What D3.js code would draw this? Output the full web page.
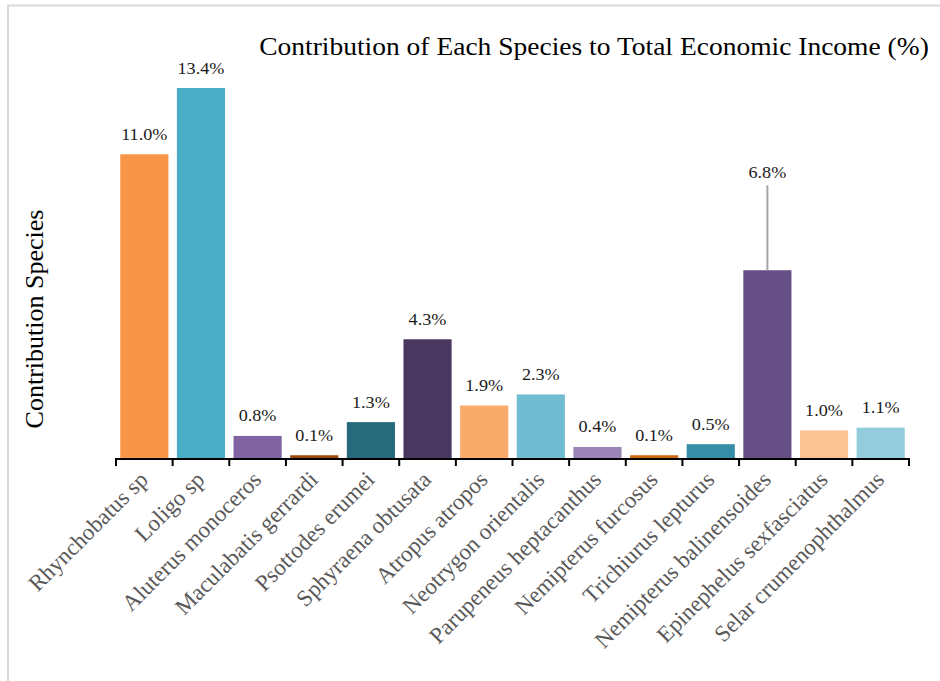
<!DOCTYPE html>
<html>
<head>
<meta charset="utf-8">
<script src="https://cdn.jsdelivr.net/npm/d3@7"></script>
<style>
  body { margin: 0; background: #fff; }
  text { font-family: "Liberation Serif", "Times New Roman", serif; }
</style>
</head>
<body>
<div id="chart"></div>
<script>
// species names, in the order they appear on the axis
const species = [
  "Rhynchobatus sp", "Loligo sp", "Aluterus monoceros", "Maculabatis gerrardi",
  "Psottodes erumei", "Sphyraena obtusata", "Atropus atropos", "Neotrygon orientalis",
  "Parupeneus heptacanthus", "Nemipterus furcosus", "Trichiurus lepturus",
  "Nemipterus balinensoides", "Epinephelus sexfasciatus", "Selar crumenophthalmus"
];
// contribution to total economic income (%)
const contribution = [11.0, 13.4, 0.8, 0.1, 1.3, 4.3, 1.9, 2.3, 0.4, 0.1, 0.5, 6.8, 1.0, 1.1];
const barColors = [
  "#f79646", "#4bacc6", "#8064a2", "#984807", "#276a7c", "#4b3860", "#f9ab6b",
  "#70bcd1", "#9b84b6", "#d0680f", "#358ea6", "#654f84", "#fac391", "#93cddd"
];
// the one label that was dragged up and joined to its bar by a leader line
const leaderIndex = 11;
const leaderLift = 92;

const W = 940, H = 681;
const margin = {top: 88, right: 31, bottom: 223, left: 116};
const width = W - margin.left - margin.right,
  height = H - margin.top - margin.bottom;

// the source image is a bit wider than tall, so text is stretched sideways
function stretch(sel, k) {
  sel.each(function() {
    const len = this.getComputedTextLength();
    d3.select(this).attr("textLength", len * k).attr("lengthAdjust", "spacingAndGlyphs");
  });
}

const svg = d3.select("#chart")
  .append("svg")
  .attr("width", W)
  .attr("height", H);

// outer frame
svg.append("rect")
  .attr("x", 8).attr("y", 5.5)
  .attr("width", 940).attr("height", 700)
  .attr("fill", "none")
  .attr("stroke", "#d9d9d9")
  .attr("stroke-width", 2);

const g = svg.append("g")
  .attr("transform", "translate(" + margin.left + "," + margin.top + ")");

const x = d3.scaleBand()
  .domain(species)
  .range([0, width])
  .paddingInner(0.15)
  .paddingOuter(0.075);

const y = d3.scaleLinear()
  .domain([0, d3.max(contribution)])
  .range([height, 0]);

const data = species.map((s, i) => ({name: s, value: contribution[i], color: barColors[i], i: i}));

// bars
g.selectAll("rect.bar")
  .data(data)
  .enter()
  .append("rect")
  .attr("class", "bar")
  .attr("x", d => x(d.name))
  .attr("y", d => y(d.value))
  .attr("width", x.bandwidth())
  .attr("height", d => Math.max(1.5, height - y(d.value)))
  .attr("fill", d => d.color);

// leader line
const ld = data[leaderIndex];
g.append("line")
  .attr("x1", x(ld.name) + x.bandwidth() / 2)
  .attr("x2", x(ld.name) + x.bandwidth() / 2)
  .attr("y1", y(ld.value) - leaderLift + 7)
  .attr("y2", y(ld.value))
  .attr("stroke", "#a6a6a6")
  .attr("stroke-width", 2);

// value labels
g.selectAll("text.val")
  .data(data)
  .enter()
  .append("text")
  .attr("class", "val")
  .attr("x", d => x(d.name) + x.bandwidth() / 2)
  .attr("y", d => d.i === leaderIndex ? y(d.value) - leaderLift : y(Math.max(d.value, 0.05)) - 14.5)
  .attr("text-anchor", "middle")
  .attr("font-size", 16.5)
  .attr("fill", "#1a1a1a")
  .text(d => d.value.toFixed(1) + "%")
  .call(stretch, 1.1);

// x axis: ticks sit on category boundaries
const step = x.step();
const axis = g.append("g").attr("transform", "translate(0," + (height + 1) + ")");
axis.append("line")
  .attr("x1", 0).attr("x2", width)
  .attr("stroke", "#000").attr("stroke-width", 2);
axis.selectAll("line.tick")
  .data(d3.range(species.length + 1))
  .enter()
  .append("line")
  .attr("class", "tick")
  .attr("x1", i => i * step).attr("x2", i => i * step)
  .attr("y1", -1).attr("y2", 7)
  .attr("stroke", "#000").attr("stroke-width", 2);

axis.selectAll("text.cat")
  .data(species)
  .enter()
  .append("text")
  .attr("class", "cat")
  .attr("text-anchor", "end")
  .attr("font-size", 23)
  .attr("fill", "#595959")
  .attr("transform", d => "translate(" + (x(d) + x.bandwidth() / 2 + 5) + ",22) rotate(-45)")
  .text(d => d);

// title
svg.append("text")
  .attr("x", 594).attr("y", 55)
  .attr("text-anchor", "middle")
  .attr("font-size", 25)
  .attr("fill", "#000")
  .text("Contribution of Each Species to Total Economic Income (%)")
  .call(stretch, 1.1);

// y axis title
svg.append("text")
  .attr("transform", "translate(43,319) rotate(-90)")
  .attr("text-anchor", "middle")
  .attr("font-size", 26)
  .attr("fill", "#000")
  .text("Contribution Species");
</script>
</body>
</html>
